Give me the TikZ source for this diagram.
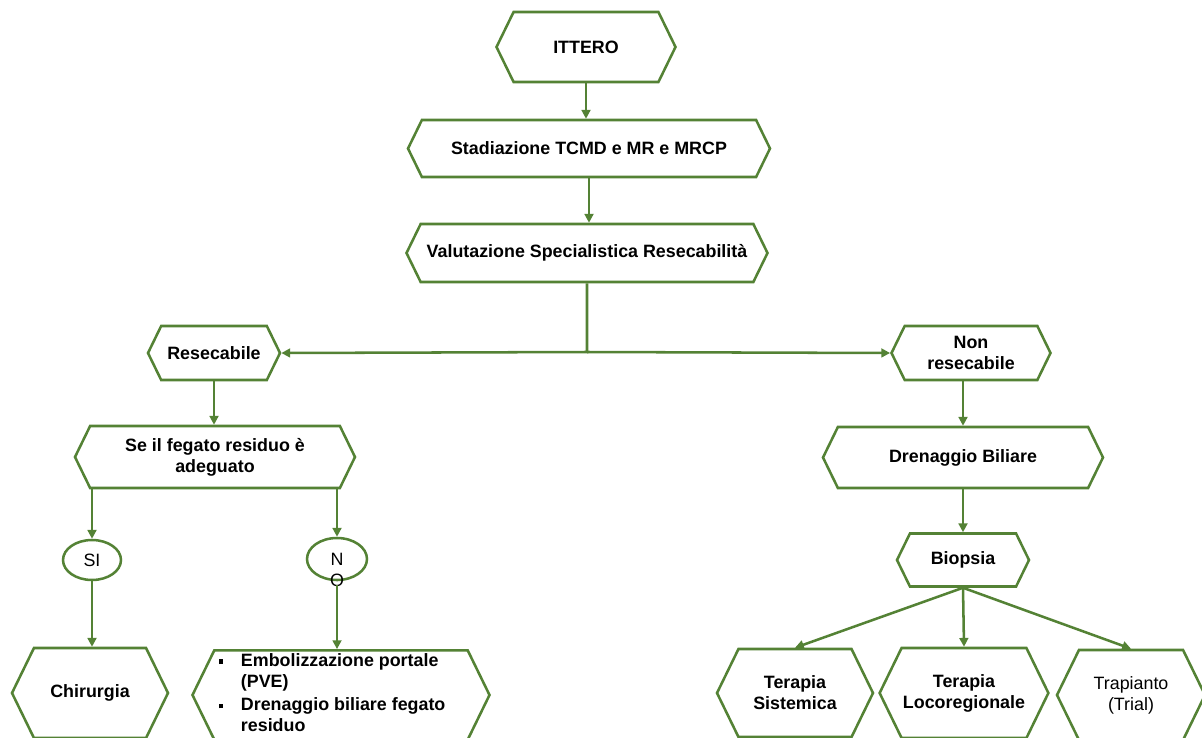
\documentclass[tikz,border=0pt]{standalone}
\usepackage{fontspec}
\setsansfont{Liberation Sans}
\usepackage{tikz}
\usetikzlibrary{positioning, shapes.symbols, shapes.geometric, arrows.meta}
\definecolor{leaf}{HTML}{548235}
\newcommand{\sqb}{\raisebox{0.25ex}{\rule{3.4pt}{3.4pt}}}

\begin{document}
\begin{tikzpicture}[x=0.025cm, y=-0.025cm,
    font=\sffamily\bfseries\fontsize{12.7}{15}\selectfont,
    hexa/.style 2 args={signal, signal to=west and east, signal pointer angle=128,
      draw=leaf, line width=1.8pt, fill=white, align=center, inner sep=1pt,
      minimum width=#1*0.025cm, minimum height=#2*0.025cm},
    oval/.style 2 args={ellipse, draw=leaf, line width=1.8pt, inner sep=0pt,
      minimum width=#1*0.025cm, minimum height=#2*0.025cm},
    plain/.style={font=\sffamily\fontsize{12.7}{15}\selectfont},
    arr/.style={draw=leaf, line width=1.8pt, -{Triangle[length=2.2mm, width=2.2mm]}}]
  \useasboundingbox (0,0) rectangle (1202,737);
  \clip (0,0) rectangle (1202,737);

  % main column
  \node[hexa={179}{70}] (ittero) at (586,47) {ITTERO};
  \node[hexa={362}{57}] (stad) at (589,148.5) {Stadiazione TCMD e MR e MRCP};
  \node[hexa={361}{58}] (valut) at (587,253) {Valutazione Specialistica Resecabilità};
  \coordinate (split) at (587,352);

  % resecabile branch
  \node[hexa={132}{54}] (resec) at (214,353) {Resecabile};
  \node[hexa={280}{62}] (fegato) at (215,457) {Se il fegato residuo è\\adeguato};
  \node[oval={58}{40}, plain] (si) at (92,560) {SI};
  \node[oval={60}{42}, plain] (no) at (337,559)
    {\smash{\raisebox{-4.5pt}{\begin{tabular}[t]{@{}c@{}}N\\O\end{tabular}}}};
  \node[hexa={156}{90}] (chir) at (90,693) {Chirurgia};
  \node[hexa={297}{88}] (emb) at (341,695)
    {\begin{tabular}{@{}l@{\hspace{12.5pt}}l@{\hspace{12.8pt}}}
       \sqb & Embolizzazione portale\\
           & (PVE)\\[1.5pt]
       \sqb & Drenaggio biliare fegato\\
           & residuo
     \end{tabular}};

  % non resecabile branch
  \node[hexa={159}{54}] (nonres) at (971,353) {Non\\resecabile};
  \node[hexa={280}{61}] (dren) at (963,457.5) {Drenaggio Biliare};
  \node[hexa={132}{53}] (biop) at (963,560) {Biopsia};
  \node[hexa={156}{88}] (tsis) at (795,693) {Terapia\\Sistemica};
  \node[hexa={157}{90}] (tloc) at (964,693) {Terapia\\Locoregionale};
  \node[hexa={148}{90}, plain] (trap) at (1131,695) {Trapianto\\(Trial)};

  \draw[arr] (ittero.south) -- (ittero.south |- stad.north);
  \draw[arr] (stad.south) -- (stad.south |- valut.north);
  \draw[arr] (valut.south) -- (split) -- (resec.east);
  \draw[arr] (split) -- (nonres.west);
  \draw[arr] (resec.south) -- (resec.south |- fegato.north);
  \draw[arr] (si.north |- fegato.south) -- (si.north);
  \draw[arr] (no.north |- fegato.south) -- (no.north);
  \draw[arr] (si.south) -- (si.south |- chir.north);
  \draw[arr, shorten <=3pt] (no.south) -- (no.south |- emb.north);
  \draw[arr] (nonres.south -| dren) -- (dren.north);
  \draw[arr] (dren.south) -- (biop.north);
  \draw[arr] (biop.south) -- (tsis.north);
  \draw[arr] (biop.south) -- (tloc.north);
  \draw[arr] (biop.south) -- (trap.north);
\end{tikzpicture}
\end{document}
